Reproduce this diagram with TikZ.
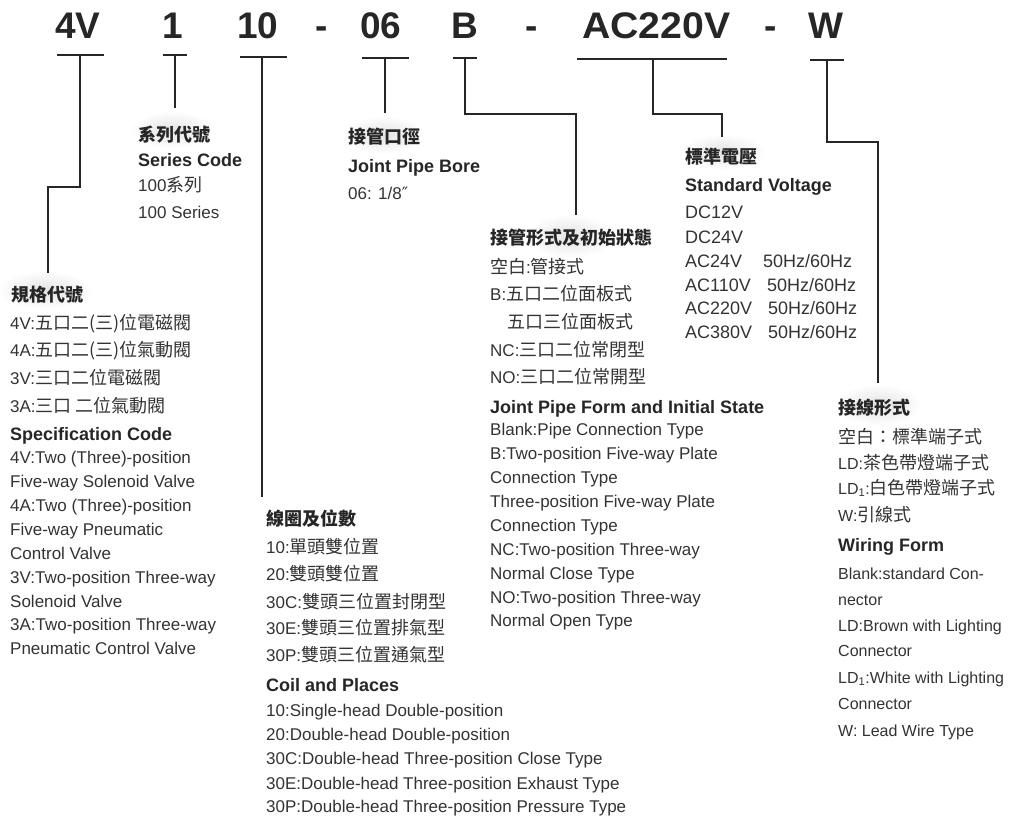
\documentclass[tikz,border=0pt]{standalone}
\usepackage{fontspec}
\setmainfont{Liberation Sans}
\newfontfamily\zhfont{Noto Sans CJK TC}
\newfontfamily\djvfont{DejaVu Sans}
\newcommand\zh[1]{{\zhfont\fontsize{18}{20}\selectfont #1}}
\begin{document}
\begin{tikzpicture}[x=1pt,y=-1pt,
  txt/.style={anchor=base west, inner sep=0pt, font=\fontsize{17}{20}\selectfont, text=black!80},
  txtr/.style={anchor=base west, inner sep=0pt, font=\fontsize{16}{20}\selectfont, text=black!80},
  vlt/.style={anchor=base west, inner sep=0pt, font=\fontsize{18}{20}\selectfont, text=black!80},
  zhd/.style={anchor=base west, inner sep=0pt, font=\fontsize{18}{20}\selectfont\zhfont\bfseries, text=black!85},
  enh/.style={anchor=base west, inner sep=0pt, font=\fontsize{18}{20}\selectfont\bfseries, text=black!85},
  code/.style={anchor=base west, inner sep=0pt, font=\fontsize{37}{40}\selectfont\bfseries, text=black!85},
  ln/.style={line width=2pt, draw=black!85},
  halo/.style={inner color=black!11, outer color=white}]
\useasboundingbox (0,0) rectangle (1021,816);

% soft halos behind headings
\shade[halo] (45,290) ellipse [x radius=48pt, y radius=19pt];
\shade[halo] (172,130) ellipse [x radius=42pt, y radius=19pt];
\shade[halo] (383,135) ellipse [x radius=42pt, y radius=19pt];
\shade[halo] (570,236) ellipse [x radius=45pt, y radius=22pt];
\shade[halo] (723,152) ellipse [x radius=42pt, y radius=18pt];
\shade[halo] (878,405) ellipse [x radius=44pt, y radius=21pt];

% code row
\node[code] (c4v) at (55,39) {4V};
\node[code] (c1) at (162,39) {1};
\node[code] (c10) at (237,39) {10};
\node[code] (d1) at (315,39) {-};
\node[code] (c06) at (360,39) {06};
\node[code] (cb) at (451,39) {B};
\node[code] (d2) at (525,39) {-};
\node[code] (cac) at (582,39) {\scalebox{1.06}[1]{AC220V}};
\node[code] (d3) at (764,39) {-};
\node[code] (cw) at (808,39) {W};

% bar coordinates
\coordinate (a1) at (57,55);  \coordinate (a2) at (104,55);
\coordinate (b1) at (163,55); \coordinate (b2) at (187,55);
\coordinate (e1) at (240,57); \coordinate (e2) at (287,57);
\coordinate (f1) at (362,58); \coordinate (f2) at (409,58);
\coordinate (g1) at (453,58); \coordinate (g2) at (477,58);
\coordinate (h1) at (577,59); \coordinate (h2) at (727,59);
\coordinate (k1) at (810,60); \coordinate (k2) at (844,60);
\foreach \p in {a,b,e,f,g,h,k} {\draw[ln] (\p1) -- (\p2);}

% leader lines
\coordinate (a3) at (80,55);  \coordinate (a4) at (80,187); \coordinate (a5) at (48,187); \coordinate (a6) at (48,273);
\draw[ln] (a3) -- (a4) -- (a5) -- (a6);
\coordinate (b3) at (175,55); \coordinate (b4) at (175,108);
\draw[ln] (b3) -- (b4);
\coordinate (e3) at (262,57); \coordinate (e4) at (262,497);
\draw[ln] (e3) -- (e4);
\coordinate (f3) at (385,58); \coordinate (f4) at (385,113);
\draw[ln] (f3) -- (f4);
\coordinate (g3) at (465,58); \coordinate (g4) at (465,114); \coordinate (g5) at (576,114); \coordinate (g6) at (576,215);
\draw[ln] (g3) -- (g4) -- (g5) -- (g6);
\coordinate (h3) at (653,59); \coordinate (h4) at (653,114); \coordinate (h5) at (722,114); \coordinate (h6) at (722,137);
\draw[ln] (h3) -- (h4) -- (h5) -- (h6);
\coordinate (k3) at (827,60); \coordinate (k4) at (827,142); \coordinate (k5) at (878,142); \coordinate (k6) at (878,383);
\draw[ln] (k3) -- (k4) -- (k5) -- (k6);

% Series code
\node[zhd] (s0) at (138,141) {系列代號};
\node[enh] (s1) at (138,166) {Series Code};
\node[txt] (s2) at (138,191) {100\zh{系列}};
\node[txt] (s3) at (138,218) {100 Series};

% Joint pipe bore
\node[zhd] (p0) at (348,143) {接管口徑};
\node[enh] (p1) at (348,172) {Joint Pipe Bore};
\node[txt] (p2) at (348,199) {06: 1/8{\djvfont ″}};

% Standard voltage
\node[zhd] (v0) at (685,164) {標準電壓};
\node[enh] (v1) at (685,191) {Standard Voltage};
\node[vlt] (v2) at (685,218) {DC12V};
\node[vlt] (v3) at (685,243) {DC24V};
\node[vlt] (v4) at (685,267) {AC24V};
\node[vlt] (v4h) at (763,267) {50Hz/60Hz};
\node[vlt] (v5) at (685,291) {AC110V};
\node[vlt] (v5h) at (767,291) {50Hz/60Hz};
\node[vlt] (v6) at (685,314) {AC220V};
\node[vlt] (v6h) at (768,314) {50Hz/60Hz};
\node[vlt] (v7) at (685,338) {AC380V};
\node[vlt] (v7h) at (768,338) {50Hz/60Hz};

% Specification code
\node[zhd] (l0) at (11,301) {規格代號};
\node[txt] (l1) at (10,329) {4V:\zh{五口二(三)位電磁閥}};
\node[txt] (l2) at (10,356) {4A:\zh{五口二(三)位氣動閥}};
\node[txt] (l3) at (10,384) {3V:\zh{三口二位電磁閥}};
\node[txt] (l4) at (10,412) {3A:\zh{三口 二位氣動閥}};
\node[enh] (l5) at (10,440) {Specification Code};
\node[txt] (l6) at (10,463) {4V:Two (Three)-position};
\node[txt] (l7) at (10,487) {Five-way Solenoid Valve};
\node[txt] (l8) at (10,511) {4A:Two (Three)-position};
\node[txt] (l9) at (10,535) {Five-way Pneumatic};
\node[txt] (l10) at (10,559) {Control Valve};
\node[txt] (l11) at (10,583) {3V:Two-position Three-way};
\node[txt] (l12) at (10,607) {Solenoid Valve};
\node[txt] (l13) at (10,630) {3A:Two-position Three-way};
\node[txt] (l14) at (10,654) {Pneumatic Control Valve};

% Coil and places
\node[zhd] (o0) at (266,525) {線圈及位數};
\node[txt] (o1) at (266,553) {10:\zh{單頭雙位置}};
\node[txt] (o2) at (266,580) {20:\zh{雙頭雙位置}};
\node[txt] (o3) at (266,608) {30C:\zh{雙頭三位置封閉型}};
\node[txt] (o4) at (266,634) {30E:\zh{雙頭三位置排氣型}};
\node[txt] (o5) at (266,661) {30P:\zh{雙頭三位置通氣型}};
\node[enh] (o6) at (266,691) {Coil and Places};
\node[txt] (o7) at (266,716) {10:Single-head Double-position};
\node[txt] (o8) at (266,740) {20:Double-head Double-position};
\node[txt] (o9) at (266,764) {30C:Double-head Three-position Close Type};
\node[txt] (o10) at (266,789) {30E:Double-head Three-position Exhaust Type};
\node[txt] (o11) at (266,812) {30P:Double-head Three-position Pressure Type};

% Joint pipe form
\node[zhd] (j0) at (490,244) {接管形式及初始狀態};
\node[txt] (j1) at (490,273) {\zh{空白}:\zh{管接式}};
\node[txt] (j2) at (490,300) {B:\zh{五口二位面板式}};
\node[txt] (j3) at (507,328) {\zh{五口三位面板式}};
\node[txt] (j4) at (490,356) {NC:\zh{三口二位常閉型}};
\node[txt] (j5) at (490,383) {NO:\zh{三口二位常開型}};
\node[enh] (j6) at (490,413) {Joint Pipe Form and Initial State};
\node[txt] (j7) at (490,435) {Blank:Pipe Connection Type};
\node[txt] (j8) at (490,459) {B:Two-position Five-way Plate};
\node[txt] (j9) at (490,483) {Connection Type};
\node[txt] (j10) at (490,507) {Three-position Five-way Plate};
\node[txt] (j11) at (490,531) {Connection Type};
\node[txt] (j12) at (490,555) {NC:Two-position Three-way};
\node[txt] (j13) at (490,579) {Normal Close Type};
\node[txt] (j14) at (490,603) {NO:Two-position Three-way};
\node[txt] (j15) at (490,626) {Normal Open Type};

% Wiring form
\node[zhd] (w0) at (838,414) {接線形式};
\node[txtr] (w1) at (838,443) {\zh{空白：標準端子式}};
\node[txtr] (w2) at (838,469) {LD:\zh{茶色帶燈端子式}};
\node[txtr] (w3) at (838,494) {LD\textsubscript{1}:\zh{白色帶燈端子式}};
\node[txtr] (w4) at (838,521) {W:\zh{引線式}};
\node[enh] (w5) at (838,551) {Wiring Form};
\node[txtr] (w6) at (838,579) {Blank:standard Con-};
\node[txtr] (w7) at (838,605) {nector};
\node[txtr] (w8) at (838,631) {LD:Brown with Lighting};
\node[txtr] (w9) at (838,656) {Connector};
\node[txtr] (w10) at (838,683) {LD\textsubscript{1}:White with Lighting};
\node[txtr] (w11) at (838,709) {Connector};
\node[txtr] (w12) at (838,736) {W: Lead Wire Type};
\end{tikzpicture}
\end{document}
